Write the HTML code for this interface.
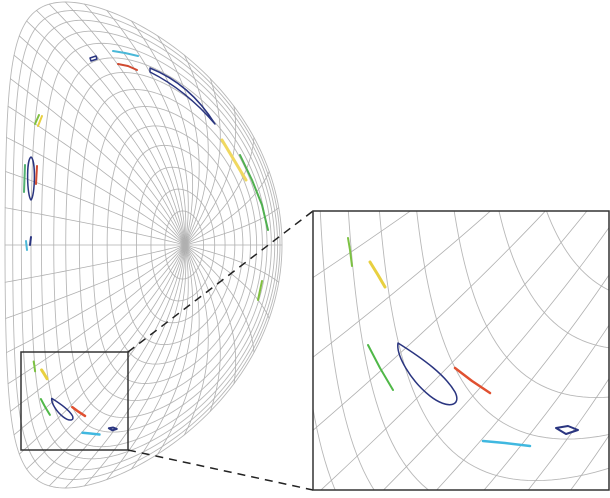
<!DOCTYPE html>
<html><head><meta charset="utf-8"><style>
html,body{margin:0;padding:0;background:#fff;overflow:hidden;width:610px;height:498px;}
svg{display:block;}
</style></head><body>
<svg id="fig" width="610" height="498" viewBox="0 0 610 498" xmlns="http://www.w3.org/2000/svg" overflow="hidden">
<defs>
<g id="grid"></g>
<g id="marks"></g>
</defs>
<use href="#grid"/>
<use href="#marks"/>
<rect x="21" y="352" width="107" height="98" fill="none" stroke="#333" stroke-width="1.5"/>
<line x1="128" y1="352" x2="313" y2="211" stroke="#222" stroke-width="1.5" stroke-dasharray="8,6"/>
<line x1="128" y1="450" x2="313" y2="490" stroke="#222" stroke-width="1.5" stroke-dasharray="8,6"/>
<rect x="313" y="211" width="296" height="279" fill="#fff"/>
<svg x="313" y="211" width="296" height="279" viewBox="21 352 107 98" preserveAspectRatio="none">
<use href="#grid"/>
<use href="#marks"/>
</svg>
<rect x="313" y="211" width="296" height="279" fill="none" stroke="#333" stroke-width="1.5"/>
</svg>
<script>
const NS='http://www.w3.org/2000/svg';
const R0=143.5, SHIFT=41.5, A=138.5, KA=243, Z0=245, DELTA=0.6, SQ=0.04;
const surfaces=[0.14,0.23,0.32,0.41,0.49,0.57,0.64,0.71,0.77,0.83,0.88,0.925,0.965,1.0];
const nTheta=44;
function px(r,t){return R0+SHIFT*(1-r*r)+A*r*Math.cos(t+DELTA*r*Math.sin(t)-SQ*r*Math.sin(2*t));}
function py(r,t){return Z0-KA*r*Math.sin(t+SQ*r*Math.sin(2*t));}
const grid=document.getElementById('grid');
function addPath(parent,d,stroke,w,name){
  const p=document.createElementNS(NS,'path');
  p.setAttribute('d',d);p.setAttribute('fill','none');
  p.setAttribute('stroke',stroke);p.setAttribute('stroke-width',w);
  p.setAttribute('vector-effect','non-scaling-stroke');
  p.setAttribute('stroke-linejoin','round');p.setAttribute('stroke-linecap','round');
  
  
  parent.appendChild(p);return p;
}
surfaces.forEach(r=>{
  let d='';
  for(let k=0;k<=240;k++){const t=k/240*2*Math.PI;d+=(k?'L':'M')+px(r,t).toFixed(2)+','+py(r,t).toFixed(2);}
  addPath(grid,d+'Z','#b8b8b8',0.9,'flux-surface');
});
for(let j=0;j<nTheta;j++){
  const t=j/nTheta*2*Math.PI;let d='';
  for(let k=0;k<=50;k++){const r=k/50;d+=(k?'L':'M')+px(r,t).toFixed(2)+','+py(r,t).toFixed(2);}
  addPath(grid,d,'#b0b0b0',0.8,'poloidal-line');
}
const marksMain=[
 {n:'navy-blob-top',c:'#2a3580',d:'M90,58 L96,56 L97,59 L91,61 Z',w:1.5},
 {n:'cyan-top',c:'#4ab8d8',d:'M113,51 L125,53 L138,56',w:2},
 {n:'red-top',c:'#d04a30',d:'M118,64 L128,66 L137,70',w:2},
 {n:'navy-arc-ellipse',c:'#2a3580',d:'M150,68 Q190,84 215,124 Q186,90 150,72 Z',w:1.5},
 {n:'green-left-upper',c:'#80c040',d:'M35,124 L39,115',w:2},
 {n:'yellow-left-upper',c:'#e8d040',d:'M38,126 L42,116',w:2},
 {n:'navy-left-ellipse',c:'#2a3580',d:'M31,157 C36,160 35,196 31,200 C27,196 26,160 31,157 Z',w:1.5},
 {n:'green-left',c:'#50b070',d:'M25,165 L24,192',w:2},
 {n:'red-left',c:'#d04a30',d:'M37,166 L36,184',w:2},
 {n:'yellow-right',c:'#f0d860',d:'M222,140 L234,160 L246,180',w:3},
 {n:'green-right',c:'#50b050',d:'M240,155 L252,180 L262,205 L268,230',w:2},
 {n:'navy-left-lower',c:'#2a3580',d:'M31,237 L30,245',w:2},
 {n:'cyan-left-lower',c:'#4ab8d8',d:'M26,241 L27,250',w:2},
 {n:'green-right-lower',c:'#80c040',d:'M262,281 L258,300',w:2}
];
const marksInset=[
 {n:'green-inset-1',c:'#7cc242',d:'M348,238 L350,250 L352,266',w:2},
 {n:'yellow-inset',c:'#e8d040',d:'M370,262 L378,275 L385,287',w:3},
 {n:'green-inset-2',c:'#50b848',d:'M368,345 L380,368 L393,390',w:2},
 {n:'navy-inset-ellipse',c:'#2a3580',d:'M398,343 C396,355 410,380 430,396 C448,410 462,406 455,392 C445,375 425,360 398,343 Z',w:1.5},
 {n:'red-inset',c:'#e05030',d:'M455,368 L472,381 L490,393',w:2.5},
 {n:'cyan-inset',c:'#40b8e0',d:'M483,441 L505,443 L530,446',w:2.5},
 {n:'navy-inset-small',c:'#2a3580',d:'M556,428 L568,426 L578,430 L566,434 Z',w:2}
];
const marks=document.getElementById('marks');
marksMain.forEach(m=>addPath(marks,m.d,m.c,m.w,m.n));
const gi=document.createElementNS(NS,'g');
gi.setAttribute('transform','translate(21,352) scale('+(107/296)+','+(98/279)+') translate(-313,-211)');


marks.appendChild(gi);
marksInset.forEach(m=>addPath(gi,m.d,m.c,m.w,m.n));
</script>
</body></html>
